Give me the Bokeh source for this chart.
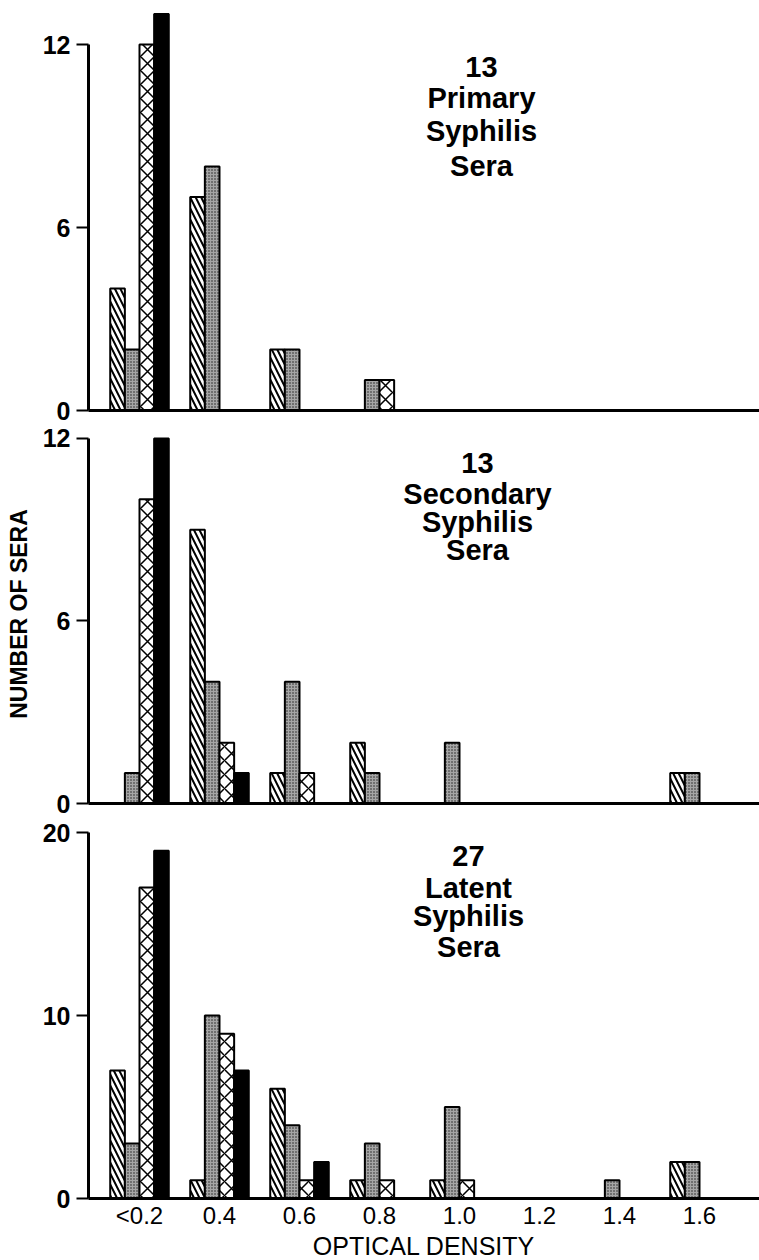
from bokeh.plotting import figure
from bokeh.layouts import column
from bokeh.models import ColumnDataSource, FixedTicker, Range1d, Label
from bokeh.transform import dodge
from bokeh.embed import file_html
from bokeh.resources import INLINE

# ---------------- data ----------------
od_bins = [0.2, 0.4, 0.6, 0.8, 1.0, 1.2, 1.4, 1.6]
od_labels = ["<0.2", "0.4", "0.6", "0.8", "1.0", "1.2", "1.4", "1.6"]

primary_hatch = [4, 7, 2, 0, 0, 0, 0, 0]
primary_dot = [2, 8, 2, 1, 0, 0, 0, 0]
primary_cross = [12, 0, 0, 1, 0, 0, 0, 0]
primary_solid = [13, 0, 0, 0, 0, 0, 0, 0]

secondary_hatch = [0, 9, 1, 2, 0, 0, 0, 1]
secondary_dot = [1, 4, 4, 1, 2, 0, 0, 1]
secondary_cross = [10, 2, 1, 0, 0, 0, 0, 0]
secondary_solid = [12, 1, 0, 0, 0, 0, 0, 0]

latent_hatch = [7, 1, 6, 1, 1, 0, 0, 2]
latent_dot = [3, 10, 4, 3, 5, 0, 1, 2]
latent_cross = [17, 9, 1, 1, 1, 0, 0, 0]
latent_solid = [19, 7, 2, 0, 0, 0, 0, 0]

primary_title = ["13", "Primary", "Syphilis", "Sera"]
secondary_title = ["13", "Secondary", "Syphilis", "Sera"]
latent_title = ["27", "Latent", "Syphilis", "Sera"]

y_ticks_12 = [0, 6, 12]
y_ticks_20 = [0, 10, 20]

# ---------------- styling ----------------
FONT = "Liberation Sans"
BW = 0.0366
X_START, X_END = 0.0725, 1.75
FRAME_W = 671
LEFT = 88

styles = [
    dict(fill_color="white", hatch_pattern="left_diagonal_line", hatch_color="black",
         hatch_weight=2.0, hatch_scale=11),
    dict(fill_color="#a6a6a6", hatch_pattern="dot", hatch_color="#1e1e1e",
         hatch_weight=1, hatch_scale=3),
    dict(fill_color="white", hatch_pattern="diagonal_cross", hatch_color="black",
         hatch_weight=1.5, hatch_scale=14),
    dict(fill_color="black"),
]


def make_panel(series, title_lines, title_x, title_ys, px_per_unit, y_ticks, frame_h,
               bottom_border, show_x_labels=False, y_label=None):
    p = figure(output_backend="svg", toolbar_location=None,
               frame_width=FRAME_W, frame_height=frame_h,
               x_range=Range1d(X_START, X_END),
               y_range=Range1d(0, frame_h / px_per_unit),
               min_border_left=LEFT, min_border_right=0, min_border_top=0,
               min_border_bottom=bottom_border)
    p.outline_line_color = None
    p.grid.visible = False
    p.background_fill_color = "white"

    offsets = [(i - 1.5) * BW for i in range(4)]
    for vals, off, st in zip(series, offsets, styles):
        xs = [x for x, v in zip(od_bins, vals) if v > 0]
        ts = [v for v in vals if v > 0]
        src = ColumnDataSource(dict(x=xs, top=ts))
        p.vbar(x=dodge("x", off, range=p.x_range), top="top", bottom=0, width=BW,
               source=src, line_color="black", line_width=2, **st)

    # y axis
    ya = p.yaxis[0]
    ya.ticker = FixedTicker(ticks=y_ticks)
    ya.bounds = (0, y_ticks[-1])
    ya.axis_line_width = 3
    ya.major_tick_line_width = 2
    ya.major_tick_out = 12
    ya.major_tick_in = 0
    ya.minor_tick_line_color = None
    ya.major_label_text_font = FONT
    ya.major_label_text_font_style = "bold"
    ya.major_label_text_font_size = "25px"
    ya.major_label_text_color = "black"
    ya.major_label_standoff = 6
    if y_label:
        ya.axis_label = y_label
        ya.axis_label_text_font = FONT
        ya.axis_label_text_font_style = "bold"
        ya.axis_label_text_font_size = "23px"
        ya.axis_label_text_color = "black"
        ya.axis_label_standoff = 8

    # x axis
    xa = p.xaxis[0]
    xa.axis_line_width = 3
    xa.major_tick_out = 0
    xa.major_tick_in = 0
    xa.minor_tick_line_color = None
    if show_x_labels:
        xa.ticker = FixedTicker(ticks=od_bins)
        xa.major_label_overrides = {b: l for b, l in zip(od_bins, od_labels)}
        xa.major_label_text_font = FONT
        xa.major_label_text_font_size = "24px"
        xa.major_label_text_color = "black"
        xa.major_label_standoff = 3
        xa.axis_label = "OPTICAL DENSITY"
        xa.axis_label_text_font = FONT
        xa.axis_label_text_font_style = "normal"
        xa.axis_label_text_font_size = "25px"
        xa.axis_label_text_color = "black"
        xa.axis_label_standoff = 0
    else:
        xa.ticker = FixedTicker(ticks=[])
        xa.major_label_standoff = 0

    for line, ty in zip(title_lines, title_ys):
        p.add_layout(Label(x=title_x, y=ty, text=line, text_align="center",
                           text_baseline="alphabetic", text_font=FONT,
                           text_font_style="bold", text_font_size="29px",
                           text_color="black"))
    return p


p1 = make_panel([primary_hatch, primary_dot, primary_cross, primary_solid],
                primary_title, 1.055, [11.25, 10.23, 9.18, 8.03],
                30.5, y_ticks_12, 410, 14)
p2 = make_panel([secondary_hatch, secondary_dot, secondary_cross, secondary_solid],
                secondary_title, 1.045, [11.18, 10.19, 9.24, 8.32],
                30.42, y_ticks_12, 379, 14, y_label="NUMBER OF SERA")
p3 = make_panel([latent_hatch, latent_dot, latent_cross, latent_solid],
                latent_title, 1.0225, [18.74, 16.99, 15.46, 13.72],
                18.3, y_ticks_20, 381, 62, show_x_labels=True)

layout = column(p1, p2, p3, spacing=0)
open("out.html", "w").write(file_html(layout, INLINE))
